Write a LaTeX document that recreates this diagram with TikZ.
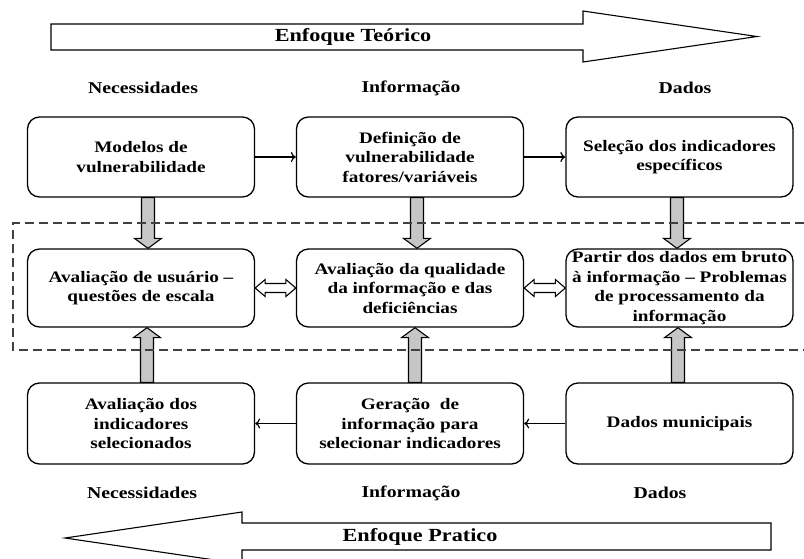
\documentclass[tikz,border=0pt]{standalone}
\usepackage{fontspec}
\setmainfont{Liberation Serif}[FakeStretch=1.2]
\usetikzlibrary{calc,arrows.meta}

\newcommand\boxfont{\fontsize{16}{19.5}\selectfont\bfseries}
\newcommand\headfont{\fontsize{16.5}{19}\selectfont\bfseries}
\newcommand\titlefont{\fontsize{18.5}{21}\selectfont\bfseries}

% fat grey arrow, vertical, from #1 to the tip at #2
\newcommand\fatarrow[2]{%
  \draw[fat] let \p1=(#1), \p2=(#2), \n1={sign(\y1-\y2)} in
    (\x1-6.5pt,\y1) -- (\x1-6.5pt,\y2+\n1*10pt) -- (\x1-13.5pt,\y2+\n1*10pt) -- (\x1,\y2)
    -- (\x1+13.5pt,\y2+\n1*10pt) -- (\x1+6.5pt,\y2+\n1*10pt) -- (\x1+6.5pt,\y1) -- cycle;}
% hollow double arrow, horizontal, between #1 and #2
\newcommand\dblarrow[2]{%
  \draw[hollow] let \p1=(#1), \p2=(#2) in
    (\x1,\y1) -- (\x1+10pt,\y1+8.5pt) -- (\x1+10pt,\y1+4.5pt) -- (\x2-10pt,\y1+4.5pt)
    -- (\x2-10pt,\y1+8.5pt) -- (\x2,\y1) -- (\x2-10pt,\y1-8.5pt) -- (\x2-10pt,\y1-4.5pt)
    -- (\x1+10pt,\y1-4.5pt) -- (\x1+10pt,\y1-8.5pt) -- cycle;}

\begin{document}
\begin{tikzpicture}[x=1pt,y=-1pt,line width=1.3pt,
    box/.style={draw,rounded corners=12pt,minimum width=227pt,minimum height=80pt,
      align=center,inner sep=1pt,font=\boxfont},
    colhead/.style={font=\headfont},
    thin/.style={line width=1.2pt,-{To[length=5pt,width=10pt]}},
    fat/.style={draw,line width=1.1pt,fill=gray!45},
    hollow/.style={draw,line width=1.1pt,fill=white}]
  \useasboundingbox (0,0) rectangle (804,558);
  \clip (0,0) rectangle (804,558);

  % enfoque teorico
  \draw[hollow] (51,24) -- (583,24) -- (583,11) -- (757,36.5) -- (583,62) -- (583,50) -- (51,50) -- cycle;
  \node[font=\titlefont] (teorico) at (353,37) {Enfoque Teórico};

  \node[colhead] (nec1) at (143,88) {Necessidades};
  \node[colhead] (inf1) at (411,88) {Informação};
  \node[colhead] (dad1) at (685,88) {Dados};

  \node[box] (modelos) at (141,157) {Modelos de\\vulnerabilidade};
  \node[box] (definicao) at (410,157) {Definição de\\vulnerabilidade\\fatores/variáveis};
  \node[box] (selecao) at (679.5,157) {Seleção dos indicadores\\específicos};

  \node[box,minimum height=78pt] (usuario) at (141,288) {Avaliação de usuário –\\questões de escala};
  \node[box,minimum height=78pt] (qualidade) at (410,288) {Avaliação da qualidade\\da informação e das\\deficiências};
  \node[box,minimum height=78pt] (bruto) at (679.5,288) {Partir dos dados em bruto\\à informação – Problemas\\de processamento da\\informação};

  \node[box,minimum height=81pt] (avalind) at (141,423.5) {Avaliação dos\\indicadores\\selecionados};
  \node[box,minimum height=81pt] (geracao) at (410,423.5) {Geração~ de\\informação para\\selecionar indicadores};
  \node[box,minimum height=81pt] (municipais) at (679.5,423.5) {Dados municipais};

  \node[colhead] (nec2) at (142,493) {Necessidades};
  \node[colhead] (inf2) at (411,493) {Informação};
  \node[colhead] (dad2) at (660,493) {Dados};

  % enfoque pratico
  \draw[hollow] (771,523) -- (242,523) -- (242,512) -- (65,538) -- (242,564) -- (242,550) -- (771,550) -- cycle;
  \node[font=\titlefont] (pratico) at (420,537) {Enfoque Pratico};

  \draw[thin] (modelos) -- (definicao);
  \draw[thin] (definicao) -- (selecao);
  \draw[thin] (municipais) -- (geracao);
  \draw[thin] (geracao) -- (avalind);

  \fatarrow{[xshift=7pt]modelos.south}{[xshift=7pt]usuario.north}
  \fatarrow{[xshift=7pt]definicao.south}{[xshift=7pt]qualidade.north}
  \fatarrow{[xshift=-2.5pt]selecao.south}{[xshift=-2.5pt]bruto.north}
  \fatarrow{[xshift=6pt]avalind.north}{[xshift=6pt]usuario.south}
  \fatarrow{[xshift=5pt]geracao.north}{[xshift=5pt]qualidade.south}
  \fatarrow{[xshift=-1.5pt]municipais.north}{[xshift=-1.5pt]bruto.south}

  \dblarrow{usuario.east}{qualidade.west}
  \dblarrow{qualidade.east}{bruto.west}

  \draw[black!75,line width=1.3pt,dash pattern=on 9pt off 5pt] (804,223) -- (13,223) -- (13,350) -- (804,350);
\end{tikzpicture}
\end{document}
